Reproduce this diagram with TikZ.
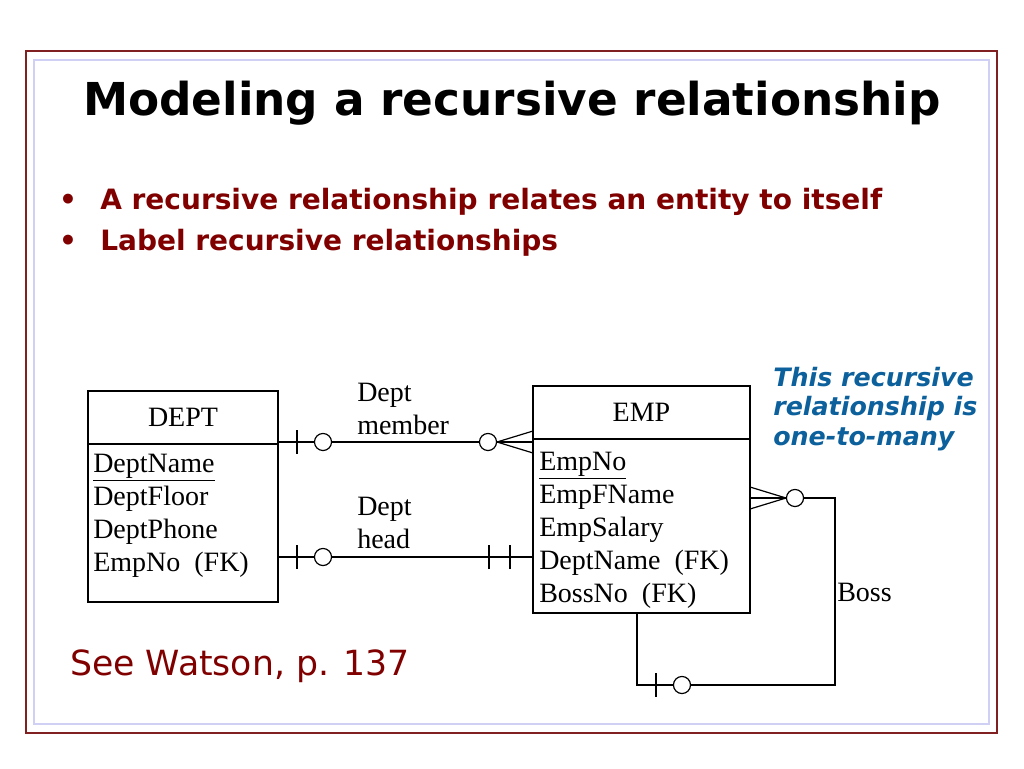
\documentclass[tikz,border=0pt]{standalone}
\usepackage{fontspec}
\setmainfont{Liberation Serif}
\newfontfamily\slidesans{DejaVu Sans}
\usetikzlibrary{positioning}

\definecolor{slidered}{RGB}{128,0,0}
\definecolor{framered}{RGB}{128,32,32}
\definecolor{framelilac}{RGB}{208,208,245}
\definecolor{noteblue}{RGB}{12,96,156}

\begin{document}
\begin{tikzpicture}[
    x=0.75pt, y=-0.75pt,
    erfont/.style={font=\fontsize{21}{24.75}\selectfont},
    enthead/.style={draw, line width=1.5pt, erfont, outer sep=0pt, minimum height=39.75pt},
    entbody/.style={draw, line width=1.5pt, outer sep=0pt},
    attrs/.style={erfont, align=left, inner sep=0pt},
    rellabel/.style={erfont, align=left, inner sep=0pt},
    rel/.style={line width=0.9pt},
    point/.style={font=\slidesans\bfseries\fontsize{21}{25}\selectfont, text=slidered, inner sep=0pt},
    note/.style={font=\slidesans\bfseries\itshape\fontsize{19}{22}\selectfont, text=noteblue, align=left, inner sep=0pt},
    zeroone/.pic={\draw (19,-12) -- (19,12); \draw[fill=white] (45,0) circle[radius=6.4pt];},
    zeromany/.pic={\draw (0,-11) -- (36,0) -- (0,11); \draw[fill=white] (45,0) circle[radius=6.4pt];},
    onlyone/.pic={\draw (23,-12) -- (23,12) (44,-12) -- (44,12);}
]
\fill[white] (0,0) rectangle (1024,768);
\useasboundingbox (0,0) rectangle (1024,768);

% Slide frame
\draw[framered, line width=1.1pt] (26,51) rectangle (997,733);
\draw[framelilac, line width=1.1pt] (34,60) rectangle (989,724);

% Title and bullets
\node[font=\slidesans\bfseries\fontsize{34}{40}\selectfont, anchor=base, inner sep=0pt] (title) at (512,115) {Modeling a recursive relationship};
\node[point, anchor=base west] (item1) at (100,209) {A recursive relationship relates an entity to itself};
\node[point, anchor=base west] (item2) at (100,250) {Label recursive relationships};
\node[point, anchor=base] (dot1) at (68,209) {\textbullet};
\node[point, anchor=base] (dot2) at (68,250) {\textbullet};
\node[font=\slidesans\fontsize{26}{30}\selectfont, text=slidered, anchor=base west, inner sep=0pt] (watson) at (70,675) {See Watson, p. 137};
\node[note, anchor=north west] (onetomany) at (773,367) {This recursive\\relationship is\\one-to-many};

% Entities
\node[enthead, minimum width=142.5pt] (depthead) at (183,417.5) {DEPT};
\node[entbody, minimum width=142.5pt, minimum height=118.5pt, below=0pt of depthead] (deptbody) {};
\node[attrs, below right=7.5pt and 3.75pt of deptbody.north west] (deptattrs) {\underline{DeptName}\\DeptFloor\\DeptPhone\\EmpNo\ \ (FK)};

\node[enthead, minimum width=162.75pt] (emphead) at (641.5,412.5) {EMP};
\node[entbody, minimum width=162.75pt, minimum height=130.5pt, below=0pt of emphead] (empbody) {};
\node[attrs, below right=9.75pt and 4.5pt of empbody.north west] (empattrs) {\underline{EmpNo}\\EmpFName\\EmpSalary\\DeptName\ \ (FK)\\BossNo\ \ (FK)};

% Relationships
\coordinate (memberstart) at ([yshift=1.5pt]depthead.south east);
\coordinate (memberend) at (memberstart -| empbody.west);
\draw[rel] (memberstart) -- (memberend);
\coordinate (headstart) at ([yshift=-25.5pt]deptbody.east);
\coordinate (headend) at (headstart -| empbody.west);
\draw[rel] (headstart) -- (headend);

% Recursive Boss relationship
\coordinate (bossstart) at ([yshift=21pt]empbody.east);
\coordinate (bossdrop) at ([xshift=-3.4pt]empbody.south);
\coordinate (bossturn) at (835,685);
\coordinate (bossfoot) at (bossdrop |- bossturn);
\draw[rel] (bossstart) -| (bossturn) -- (bossfoot) -- (bossdrop);

% Cardinality marks
\pic[rel] at (memberstart) {zeroone};
\pic[rel, rotate=180] at (memberend) {zeromany};
\pic[rel] at (headstart) {zeroone};
\pic[rel, rotate=180] at (headend) {onlyone};
\pic[rel] at (bossstart) {zeromany};
\pic[rel] at (bossfoot) {zeroone};

% Relationship labels
\node[rellabel, anchor=north west] (memberlabel) at (357,383) {Dept\\member};
\node[rellabel, anchor=north west] (headlabel) at (357,497) {Dept\\head};
\node[rellabel, anchor=base west] (bosslabel) at (837,601) {Boss};

\end{tikzpicture}
\end{document}
